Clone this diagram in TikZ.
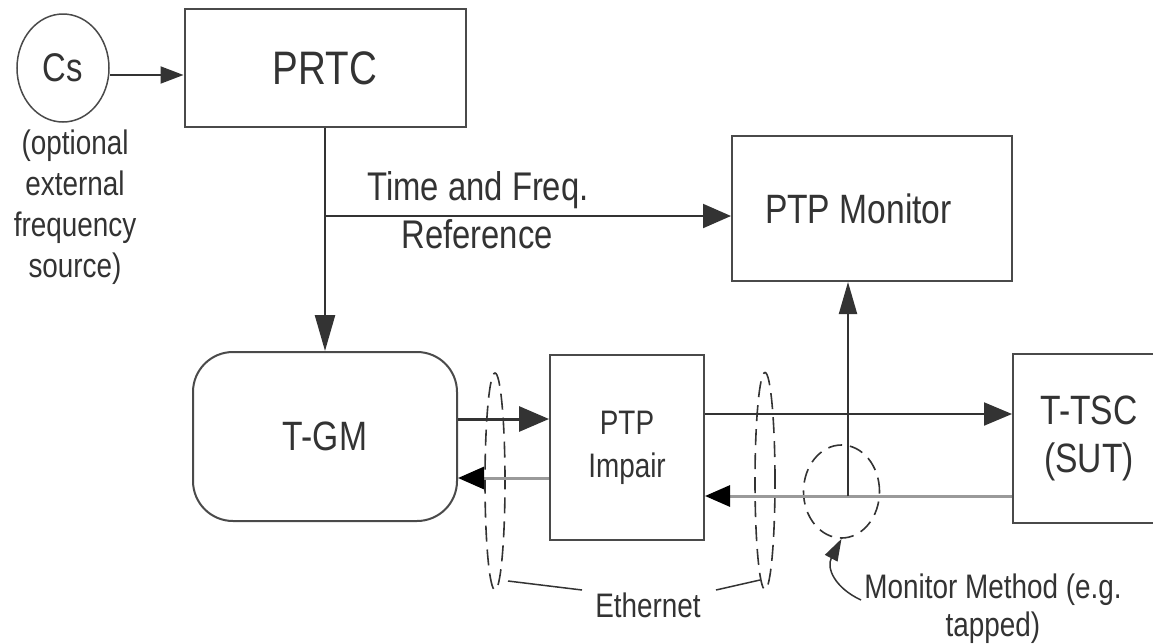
\documentclass[tikz,border=0pt]{standalone}
\usepackage{fontspec}
\setmainfont{Liberation Sans}[FakeStretch=0.82]
\usetikzlibrary{arrows.meta,shapes.geometric}
\definecolor{ink}{HTML}{333333}
\definecolor{lgray}{HTML}{9A9A9A}
\definecolor{bord}{HTML}{4A4A4A}
\newcommand\fsz[2]{\fontsize{#1}{#2}\selectfont}

\begin{document}
\begin{tikzpicture}[x=1pt,y=-1pt,
  txt/.style={text=ink,inner sep=0pt},
  blk/.style={draw=bord,line width=2pt,inner sep=0pt,text=ink},
  wire/.style={draw=ink,line width=2pt},
  ret/.style={draw=lgray,line width=3pt},
  dsh/.style={draw=ink,line width=1.6pt,dash pattern=on 16pt off 8pt,ellipse,inner sep=0pt},
  thin/.style={draw=ink,line width=1.5pt}]
\fill[white] (0,0) rectangle (1153,643);
\useasboundingbox (0,0) rectangle (1153,643);

% blocks
\node[blk, ellipse, line width=1.5pt, minimum width=92pt, minimum height=108pt, font=\fsz{40}{48}] (cs) at (63,68) {Cs};
\node[txt, font=\fsz{34}{41}, align=center, anchor=base] (cslbl) at (75,277) {(optional\\external\\frequency\\source)};
\node[blk, minimum width=281pt, minimum height=118pt, font=\fsz{47}{56}] (prtc) at (325,68) {PRTC};
\node[blk, minimum height=145pt, text width=214pt, inner xsep=33pt, align=flush left, font=\fsz{41}{48}] (mon) at (872,208.5) {PTP Monitor};
\node[blk, rounded corners=40pt, minimum width=264pt, minimum height=169pt, font=\fsz{41}{48}] (tgm) at (325,436.5) {T-GM};
\node[blk, minimum width=154pt, minimum height=185pt, align=center, font=\fsz{34}{43}] (imp) at (627,447.5) {PTP\\Impair};
\node[blk, minimum width=152pt, minimum height=169pt, align=center, font=\fsz{41}{48}] (tsc) at (1089,438.5) {T-TSC\\(SUT)};

% reference distribution
\node[txt, font=\fsz{40}{48}, anchor=base] (tf1) at (478,200) {Time and Freq.};
\node[txt, font=\fsz{40}{48}, anchor=base] (tf2) at (477,248) {Reference};
\coordinate (br) at (325,216);
\draw[wire, -{Triangle[length=23pt,width=17pt]}] ([yshift=-7pt]cs.east) -- ([yshift=-7pt]prtc.west);
\draw[wire, line width=2.5pt, -{Triangle[length=36pt,width=20pt]}] (prtc.south) -- (tgm.north);
\draw[wire, -{Triangle[length=28pt,width=24pt]}] (br) -- (br -| mon.west);

% Ethernet links and tap
\node[dsh, minimum width=20pt, minimum height=217pt] (eth1) at (495,481.5) {};
\node[dsh, minimum width=20pt, minimum height=217pt] (eth2) at (765,481) {};
\node[dsh, dash pattern=on 14pt off 8pt, minimum width=76pt, minimum height=93pt] (tapc) at (841.5,491.5) {};

\coordinate (yA) at (0,419);
\coordinate (yB) at (0,478);
\coordinate (yC) at (0,414);
\coordinate (yD) at (0,496);
\coordinate (tap) at (848,496);

\draw[wire, line width=3pt, -{Triangle[length=30pt,width=25pt]}] (tgm.east |- yA) -- (imp.west |- yA);
\draw[ret, -{Triangle[length=26pt,width=22pt,color=black]}] (imp.west |- yB) -- (tgm.east |- yB);
\draw[wire, -{Triangle[length=28pt,width=23pt]}] (imp.east |- yC) -- (tsc.west |- yC);
\draw[ret, -{Triangle[length=25pt,width=21pt,color=black]}] (tsc.west |- yD) -- (imp.east |- yD);
\draw[wire, -{Triangle[length=32pt,width=18pt]}] (tap) -- (tap |- mon.south);

% labels with leaders
\node[txt, font=\fsz{34}{41}, anchor=base] (ethl) at (648,617) {Ethernet};
\coordinate (e1a) at (508,581);
\coordinate (e1b) at (582,590);
\coordinate (e2a) at (716,590);
\coordinate (e2b) at (760,580);
\draw[thin] (e1a) -- (e1b);
\draw[thin] (e2a) -- (e2b);

\node[txt, font=\fsz{34}{38}, align=center, anchor=base] (mm) at (993,636) {Monitor Method (e.g.\\tapped)};
\coordinate (mms) at (861,600);
\draw[thin, -{Triangle[length=22pt,width=14pt]}] (mms) .. controls (835,588) and (826,568) .. (tapc.south);
\end{tikzpicture}
\end{document}
